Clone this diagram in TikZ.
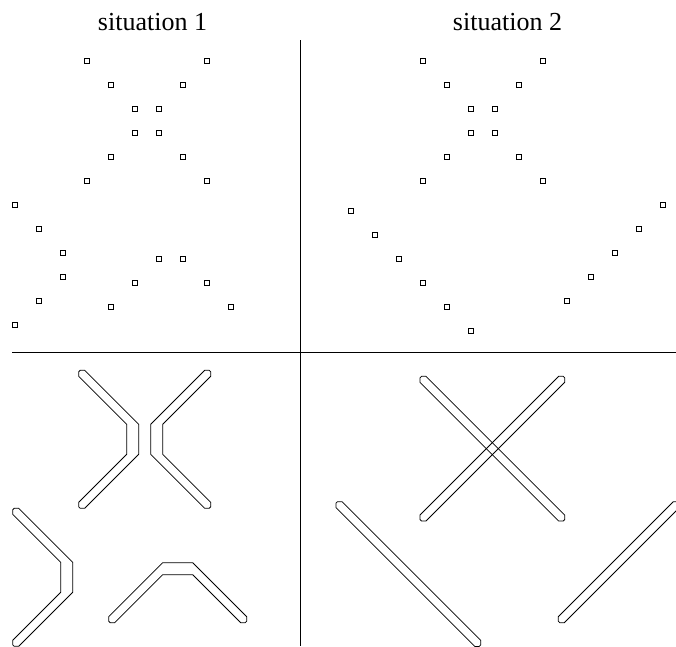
\documentclass[tikz,border=0pt]{standalone}
\usepackage{fontspec}
\setmainfont{Liberation Serif}
\begin{document}
\begin{tikzpicture}[x=1pt,y=-1pt,
  sq/.style={draw,line width=0.9pt,minimum size=5pt,inner sep=0pt,outer sep=0pt},
  band/.style={draw,line width=0.75pt,line join=miter},
  axis/.style={line width=0.9pt},
  ttl/.style={font=\fontsize{26}{30}\selectfont,anchor=base,inner sep=0pt}]
\useasboundingbox (0,0) rectangle (676,646);
\clip (0,0) rectangle (676,646);
% titles
\node[ttl] (t1) at (152.5,30) {situation 1};
\node[ttl] (t2) at (507.5,30) {situation 2};
% axes
\coordinate (vt) at (300,40);
\coordinate (vb) at (300,646);
\coordinate (hl) at (12,352);
\coordinate (hr) at (676,352);
\draw[axis] (vt) -- (vb);
\draw[axis] (hl) -- (hr);
% squares, situation 1
\foreach \i/\j [count=\n] in {3/0,8/0,4/1,7/1,5/2,6/2,5/3,6/3,4/4,7/4,3/5,8/5,
   0/6,1/7,2/8,2/9,1/10,0/11,6/8.25,7/8.25,5/9.25,8/9.25,4/10.25,9/10.25}
  \node[sq] (a\n) at ({15.3+24*\i},{61.3+24*\j}) {};
% squares, situation 2
\foreach \i/\j [count=\n] in {3/0,8/0,4/1,7/1,5/2,6/2,5/3,6/3,4/4,7/4,3/5,8/5,
   0/6.25,1/7.25,2/8.25,3/9.25,4/10.25,5/11.25,13/6,12/7,11/8,10/9,9/10}
  \node[sq] (b\n) at ({351.3+24*\i},{61.3+24*\j}) {};
% bands, situation 1
\draw[band] (80.2,370.3) -- (84.7,370.3) -- (138.7,424.3) -- (138.7,454.3) -- (84.7,508.3) -- (80.2,508.3) -- (78.7,506.8) -- (78.7,502.3) -- (126.7,454.3) -- (126.7,424.3) -- (78.7,376.3) -- (78.7,371.8) -- cycle;
\draw[band] (209.2,370.3) -- (204.7,370.3) -- (150.7,424.3) -- (150.7,454.3) -- (204.7,508.3) -- (209.2,508.3) -- (210.7,506.8) -- (210.7,502.3) -- (162.7,454.3) -- (162.7,424.3) -- (210.7,376.3) -- (210.7,371.8) -- cycle;
\draw[band] (14.2,508.3) -- (18.7,508.3) -- (72.7,562.3) -- (72.7,592.3) -- (18.7,646.3) -- (14.2,646.3) -- (12.7,644.8) -- (12.7,640.3) -- (60.7,592.3) -- (60.7,562.3) -- (12.7,514.3) -- (12.7,509.8) -- cycle;
\draw[band] (108.7,616.7) -- (162.7,562.7) -- (192.7,562.7) -- (246.7,616.7) -- (246.7,621.2) -- (245.2,622.7) -- (240.7,622.7) -- (192.7,574.7) -- (162.7,574.7) -- (114.7,622.7) -- (110.2,622.7) -- (108.7,621.2) -- cycle;
% bands, situation 2
\draw[band] (421.5,376.3) -- (426,376.3) -- (564.7,515) -- (564.7,519.5) -- (563.2,521) -- (558.7,521) -- (420,382.3) -- (420,377.8) -- cycle;
\draw[band] (563.2,376.3) -- (558.7,376.3) -- (420,515) -- (420,519.5) -- (421.5,521) -- (426,521) -- (564.7,382.3) -- (564.7,377.8) -- cycle;
\draw[band] (337.5,501.7) -- (342,501.7) -- (480.7,640.4) -- (480.7,644.9) -- (479.2,646.4) -- (474.7,646.4) -- (336,507.7) -- (336,503.2) -- cycle;
\draw[band] (677.8,501.7) -- (673.3,501.7) -- (558.3,616.7) -- (558.3,621.2) -- (559.8,622.7) -- (564.3,622.7) -- (679.3,507.7) -- (679.3,503.2) -- cycle;
\end{tikzpicture}
\end{document}
